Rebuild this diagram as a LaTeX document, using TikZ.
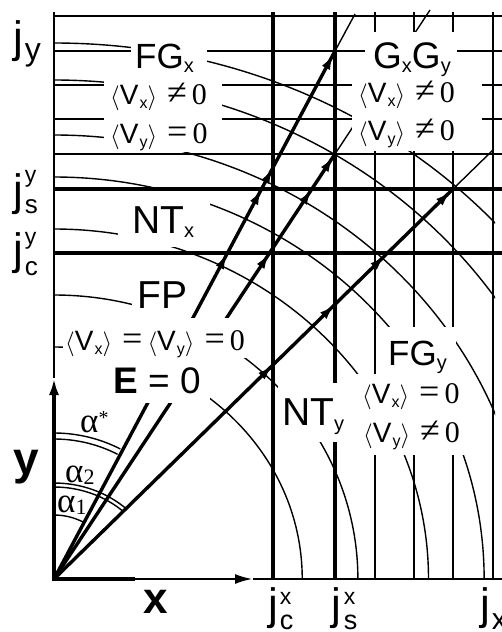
\documentclass[tikz,border=0pt]{standalone}
\usepackage[no-math]{fontspec}
\setmainfont{Liberation Sans}
\newfontfamily\tms{Liberation Serif}
\usetikzlibrary{arrows.meta,decorations.markings}

\newcommand{\mydn}[3]{\raisebox{-#1pt}{\fontsize{#2}{#2}\selectfont #3}}
\newcommand{\myup}[3]{\raisebox{#1pt}{\fontsize{#2}{#2}\selectfont #3}}
\newcommand{\myla}{\ensuremath{\langle}}
\newcommand{\myra}{\ensuremath{\rangle}}
\newcommand{\Vav}[1]{\myla{\fontsize{28}{30}\selectfont V}\hspace{1pt}\mydn{4}{16}{#1}\myra}
\newcommand{\sym}[1]{\hspace{10pt}{\tms\fontsize{36}{36}\selectfont #1}\hspace{5pt}}
\newcommand{\zero}{{\tms\fontsize{30}{30}\selectfont 0}}
\newcommand{\fmid}{\fontsize{27}{30}\selectfont}
\newcommand{\fj}{\fontsize{44}{48}\selectfont}

\tikzset{
  gthin/.style={line width=1.4pt},
  gthick/.style={line width=3.2pt},
  rayline/.style={line width=3.4pt},
  axisline/.style={line width=3.4pt},
  lbl/.style={anchor=base west, inner sep=0pt},
  mask/.style={fill=white},
  rayhead/.tip={Latex[length=16pt,width=9pt]},
  arrowat/.style={postaction={decorate,decoration={markings,mark=at position #1 with {\arrow{rayhead}}}}}
}

\begin{document}
\begin{tikzpicture}[x=1pt,y=-1pt]
\useasboundingbox (0,0) rectangle (502,632);
\coordinate (O) at (54,579);
\coordinate (Aend) at (335,51);
\coordinate (Bend) at (335,154);
\coordinate (Cend) at (453,189);
\coordinate (Aext) at (355,14);
\coordinate (Bext) at (430,10);
\coordinate (Cext) at (493,150);
\coordinate (yArr) at (54,378);
\coordinate (yTop) at (54,12);
\coordinate (xMid) at (135,579);
\coordinate (xArr) at (253,579);
\coordinate (xEnd) at (502,579);

% grid
\foreach \yy in {16,51,85,119,154} \draw[gthin] (54,\yy) -- (502,\yy);
\foreach \yy in {189,253} \draw[gthick] (54,\yy) -- (502,\yy);
\foreach \xx in {375,414,453,493} \draw[gthin] (\xx,12) -- (\xx,579);
\foreach \xx in {273,335} \draw[gthick] (\xx,12) -- (\xx,579);

\begin{scope}
  \clip (54,9) rectangle (495,579);
  \draw[gthin] (O) ellipse [x radius=590, y radius=536];
  \foreach \b in {499,444,402,350,284,232}
    \draw[gthin] (O) ellipse [x radius={1.07*\b}, y radius=\b];
  \draw[gthin] (Aend) -- (Aext);
  \draw[gthin] (Bend) -- (Bext);
  \draw[gthin] (Cend) -- (Cext);
  \draw[rayline, arrowat=0.617, arrowat=0.739, arrowat=0.779, arrowat=0.995] (O) -- (Aend);
  \draw[rayline, arrowat=0.767, arrowat=0.918, arrowat=0.995] (O) -- (Bend);
  \draw[rayline, arrowat=0.549, arrowat=0.704, arrowat=0.83, arrowat=0.995] (O) -- (Cend);
\end{scope}

% white backgrounds of the labels
\fill[mask] (131,36) rectangle (207,76);
\fill[mask] (104,78) rectangle (222,152);
\fill[mask] (365,32) rectangle (457,76);
\fill[mask] (352,76) rectangle (482,151);
\fill[mask] (118,191) rectangle (210,247);
\fill[mask] (132,272) rectangle (190,318);
\fill[mask] (63,318) rectangle (256,358);
\fill[mask] (108,358) rectangle (210,403);
\fill[mask] (278,383) rectangle (347,442);
\fill[mask] (380,327) rectangle (456,374);
\fill[mask] (356,374) rectangle (466,455);

% axes
\draw[axisline, -{Latex[length=17pt,width=10pt]}] (54,580.7) -- (yArr);
\draw[gthin] (yArr) -- (yTop);
\draw[axisline] (52.3,579) -- (xMid);
\draw[line width=2.6pt, -{Latex[length=18pt,width=10pt]}] (xMid) -- (xArr);
\draw[gthin] (xArr) -- (xEnd);

% angle marks
\draw[gthin] (54,433) arc[start angle=-90, end angle=-63, radius=146];
\draw[gthin] (54,439) arc[start angle=-90, end angle=-63, radius=140];
\draw[gthin] (54,483) arc[start angle=-90, end angle=-47, x radius=106, y radius=96];
\draw[gthin] (54,487) arc[start angle=-90, end angle=-47, x radius=102, y radius=92];
\draw[gthin] (54,515) arc[start angle=-90, end angle=-63, radius=64];

% labels
\node[lbl, font=\fj] (jy) at (13,52) {j\hspace{2pt}\mydn{8}{32}{y}};
\node[lbl, font=\fj] (jsy) at (13,205) {j\hspace{2pt}\rlap{\myup{23}{23}{y}}\mydn{8}{26}{s}};
\node[lbl, font=\fj] (jcy) at (13,264) {j\hspace{2pt}\rlap{\myup{20}{23}{y}}\mydn{11}{26}{c}};
\node[lbl, font=\fj] (jcx) at (268,619) {j\hspace{2pt}\rlap{\myup{15}{23}{x}}\mydn{10}{27}{c}};
\node[lbl, font=\fj] (jsx) at (331,619) {j\hspace{3pt}\rlap{\myup{15}{23}{x}}\mydn{10}{27}{s}};
\node[lbl, font=\fj] (jx) at (480,619) {j\hspace{2pt}\mydn{10}{30}{x}};

\node[lbl, font=\fontsize{46}{48}\selectfont\bfseries] (ylab) at (13,474) {y};
\node[lbl, font=\fontsize{44}{48}\selectfont\bfseries] (xlab) at (143,613) {x};

\node[lbl, font=\tms\fontsize{35}{38}\selectfont] (astar) at (80,432) {α\myup{8}{20}{*}};
\node[lbl, font=\tms\fontsize{35}{38}\selectfont] (atwo) at (65,482) {α\mydn{2}{22}{2}};
\node[lbl, font=\tms\fontsize{35}{38}\selectfont] (aone) at (57,512) {α\mydn{2}{22}{1}};

\node[lbl, font=\fontsize{35}{38}\selectfont] (FGx) at (135,68) {FG\mydn{4}{20}{x}};
\node[lbl, font=\fmid] (vxl) at (110,104) {\Vav{x}\sym{≠}\zero};
\node[lbl, font=\fmid] (vyl) at (110,143) {\Vav{y}\sym{=}\zero};

\node[lbl, font=\fontsize{37}{40}\selectfont] (GxGy) at (373,68) {G\mydn{4}{20}{x}G\mydn{4}{20}{y}};
\node[lbl, font=\fmid] (vxr) at (358,102) {\Vav{x}\sym{≠}\zero};
\node[lbl, font=\fmid] (vyr) at (358,140) {\Vav{y}\sym{≠}\zero};

\node[lbl, font=\fontsize{39}{42}\selectfont] (NTx) at (132,233) {NT\mydn{4}{20}{x}};
\node[lbl, font=\fontsize{39}{42}\selectfont] (FP) at (137,308) {FP};
\node[lbl, font=\fmid] (vfp) at (65,350) {\Vav{x}\sym{=}\Vav{y}\sym{=}\zero};
\node[lbl, font=\fontsize{37}{40}\selectfont] (Ezero) at (113,393) {\textbf{E} = 0};

\node[lbl, font=\fontsize{39}{42}\selectfont] (NTy) at (282,425) {NT\mydn{5}{20}{y}};
\node[lbl, font=\fontsize{35}{38}\selectfont] (FGy) at (388,365) {FG\mydn{4}{20}{y}};
\node[lbl, font=\fmid] (vxb) at (362,403) {\Vav{x}\sym{=}\zero};
\node[lbl, font=\fmid] (vyb) at (363,442) {\Vav{y}\sym{≠}\zero};
\end{tikzpicture}
\end{document}
